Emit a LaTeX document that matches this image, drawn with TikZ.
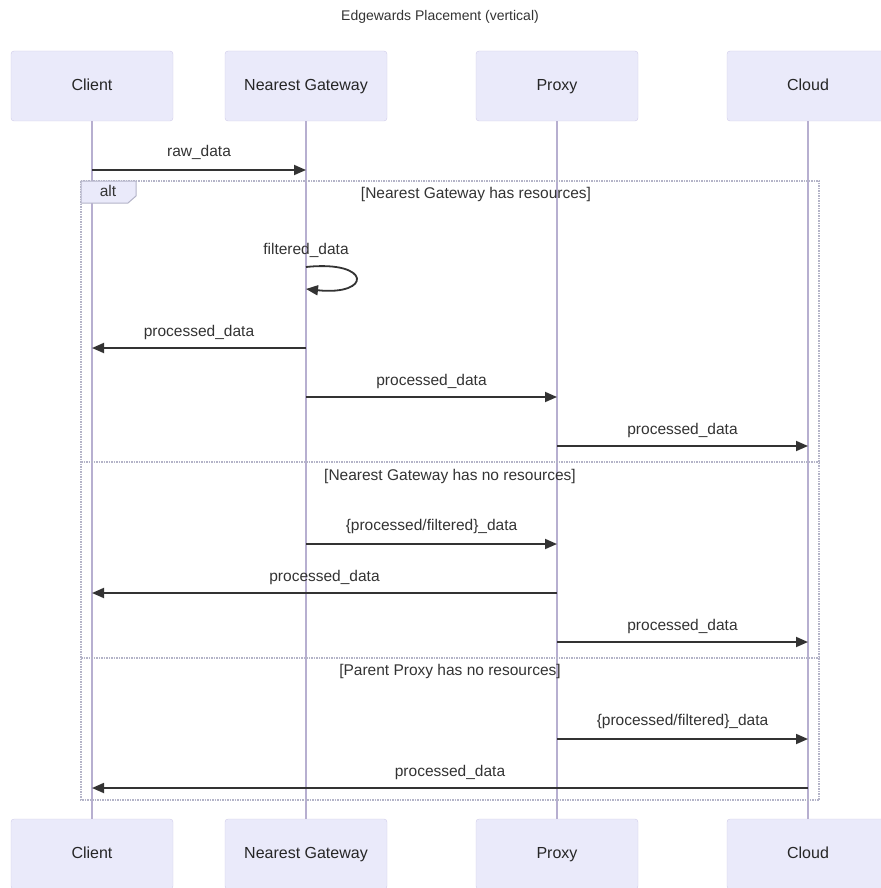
\documentclass[tikz,border=0pt]{standalone}
\usepackage{fontspec}
\setmainfont{Liberation Sans}
\usetikzlibrary{arrows.meta,positioning}
\definecolor{actfill}{HTML}{EAEAFA}
\definecolor{actline}{HTML}{CFCBE8}
\definecolor{lifecol}{HTML}{B7AFD0}
\definecolor{msgcol}{HTML}{333333}
\definecolor{altcol}{HTML}{B4B4C8}
\tikzset{
	actor/.style={draw=actline,fill=actfill,rounded corners=3pt,minimum width=162pt,
		minimum height=70pt,text height=12pt,text depth=3pt,
		font=\fontsize{16}{19}\selectfont,text=black!85},
	life/.style={draw=lifecol,line width=1.2pt},
	msg/.style={draw=msgcol,line width=1.8pt,-{Triangle[length=12pt,width=10pt]}},
	lbl/.style={font=\fontsize{15.5}{18}\selectfont,text=msgcol,text height=11.5pt,text depth=3.5pt},
	altbox/.style={draw=altcol,densely dotted,line width=1.5pt},
}

\begin{document}
\begin{tikzpicture}[x=1pt,y=-1pt]
		\useasboundingbox (0,0) rectangle (880,888);
		\node[font=\fontsize{14}{17}\selectfont,text=msgcol] (title) at (440,17) {Edgewards Placement (vertical)};
		% actors, top and bottom
		\node[actor] (client) at (92,86) {Client};
		\node[actor] (gw) at (306,86) {Nearest Gateway};
		\node[actor] (proxy) at (557,86) {Proxy};
		\node[actor] (cloud) at (808,86) {Cloud};
		\node[actor] (clientb) at (92,854) {Client};
		\node[actor] (gwb) at (306,854) {Nearest Gateway};
		\node[actor] (proxyb) at (557,854) {Proxy};
		\node[actor] (cloudb) at (808,854) {Cloud};
		\draw[life] (client) -- (clientb) (gw) -- (gwb) (proxy) -- (proxyb) (cloud) -- (cloudb);
		% message rows on each lifeline
		\foreach \n/\x in {c/92,g/306,p/557,d/808}
			\foreach \y in {170,267,289,348,397,446,544,593,642,739,788}
				\coordinate (\n\y) at (\x,\y);
		% alt frame
		\draw[altbox] (81,181) rectangle (819,800);
		\draw[altbox] (81,462) -- (819,462) (81,658) -- (819,658);
		\draw[draw=altcol,fill=actfill,line width=1pt] (81,181) -- (136,181) -- (136,196) -- (128,203) -- (81,203) -- cycle;
		\node[lbl] (alttag) at (108,192) {alt};
		\node[lbl] (sec1) at (476,194) {[Nearest Gateway has resources]};
		\node[lbl] (sec2) at (450,476) {[Nearest Gateway has no resources]};
		\node[lbl] (sec3) at (450,671) {[Parent Proxy has no resources]};
		% messages
		\draw[msg] (c170) -- (g170) node[lbl,midway,yshift=17pt] {raw\_data};
		\node[lbl] (self) at (306,250) {filtered\_data};
		\draw[msg] (g267) .. controls (372,260) and (372,296) .. (g289);
		\draw[msg] (g348) -- (c348) node[lbl,midway,yshift=16pt] {processed\_data};
		\draw[msg] (g397) -- (p397) node[lbl,midway,yshift=16pt] {processed\_data};
		\draw[msg] (p446) -- (d446) node[lbl,midway,yshift=16pt] {processed\_data};
		\draw[msg] (g544) -- (p544) node[lbl,midway,yshift=18pt] {\{processed/filtered\}\_data};
		\draw[msg] (p593) -- (c593) node[lbl,midway,yshift=16pt] {processed\_data};
		\draw[msg] (p642) -- (d642) node[lbl,midway,yshift=16pt] {processed\_data};
		\draw[msg] (p739) -- (d739) node[lbl,midway,yshift=18pt] {\{processed/filtered\}\_data};
		\draw[msg] (d788) -- (c788) node[lbl,midway,yshift=16pt] {processed\_data};
	\end{tikzpicture}
\end{document}
